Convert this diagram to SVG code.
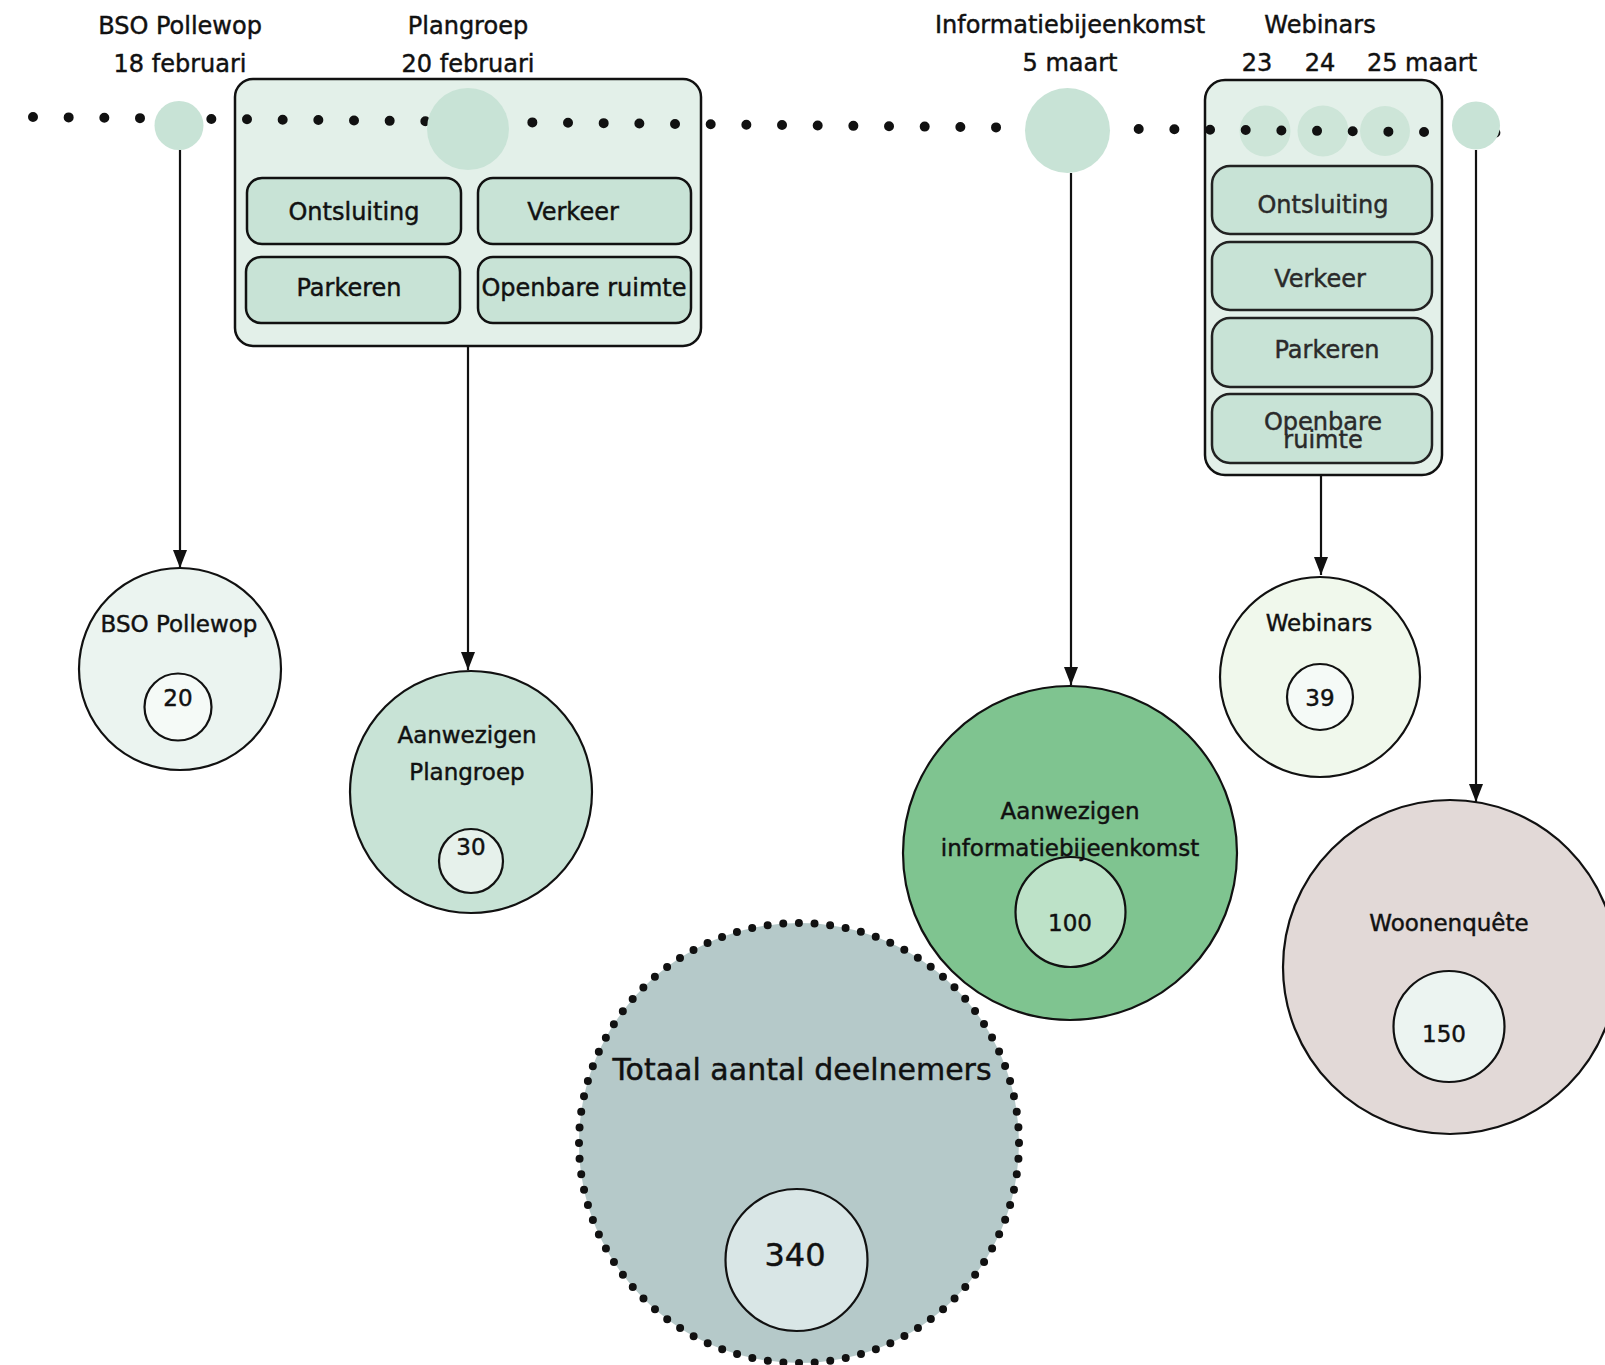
<svg xmlns="http://www.w3.org/2000/svg" width="1605" height="1365" viewBox="0 0 1605 1365">
<defs>
<style>
text{font-family:"DejaVu Sans","Liberation Sans",sans-serif;fill:#111;stroke:#111;stroke-width:0.45;text-anchor:middle}
.lbl{font-size:24px}
.nl{font-size:23px}
.num{font-size:23px}
.box{fill:#e3f0e9;stroke:#111;stroke-width:2.5}
.sub{fill:#c8e3d6;stroke:#111;stroke-width:2.5}
.wsub{fill:#c8e3d6;stroke:#222;stroke-width:2.5}
.wt{fill:#2a2a2a;stroke:#2a2a2a}
.ev{fill:#c8e3d6;stroke:none}
.node{stroke:#111;stroke-width:2.2}
.conn{stroke:#111;stroke-width:2.2;fill:none}
</style>
<marker id="arrow" markerWidth="18" markerHeight="14" viewBox="0 0 18 14" refX="18" refY="7" orient="auto" markerUnits="userSpaceOnUse">
<path d="M0,0 L18,7 L0,14 z" fill="#111"/>
</marker>
</defs>
<rect width="1605" height="1365" fill="#fff"/>

<g id="top-labels">
<text class="lbl" x="180" y="34">BSO Pollewop</text>
<text class="lbl" x="180" y="72">18 februari</text>
<text class="lbl" x="468" y="34">Plangroep</text>
<text class="lbl" x="468" y="72">20 februari</text>
<text class="lbl" x="1070" y="33">Informatiebijeenkomst</text>
<text class="lbl" x="1070" y="71">5 maart</text>
<text class="lbl" x="1320" y="33">Webinars</text>
<text class="lbl" x="1257" y="71">23</text>
<text class="lbl" x="1320" y="71">24</text>
<text class="lbl" x="1422" y="71">25 maart</text>
</g>

<g id="plangroep-box">
<rect class="box" x="235" y="79" width="466" height="267" rx="18"/>
<rect class="sub" x="247" y="178" width="214" height="66" rx="15"/>
<text class="lbl" x="354" y="220">Ontsluiting</text>
<rect class="sub" x="478" y="178" width="213" height="66" rx="15"/>
<text class="lbl" x="573" y="220">Verkeer</text>
<rect class="sub" x="246" y="257" width="214" height="66" rx="15"/>
<text class="lbl" x="349" y="296">Parkeren</text>
<rect class="sub" x="478" y="257" width="213" height="66" rx="15"/>
<text class="lbl" x="584" y="296">Openbare ruimte</text>
</g>

<g id="webinars-box">
<rect class="box" x="1205" y="80" width="237" height="395" rx="20"/>
<circle cx="1265" cy="131" r="25.5" fill="#cde5d8"/>
<circle cx="1323" cy="131" r="25.5" fill="#cde5d8"/>
<circle cx="1385" cy="131" r="25" fill="#cde5d8"/>
<rect class="wsub" x="1212" y="166" width="220" height="68" rx="18"/>
<text class="lbl wt" x="1323" y="213">Ontsluiting</text>
<rect class="wsub" x="1212" y="242" width="220" height="68" rx="18"/>
<text class="lbl wt" x="1320" y="287">Verkeer</text>
<rect class="wsub" x="1212" y="318" width="220" height="69" rx="18"/>
<text class="lbl wt" x="1327" y="358">Parkeren</text>
<rect class="wsub" x="1212" y="394" width="220" height="69" rx="18"/>
<text class="lbl wt" x="1323" y="430">Openbare</text>
<text class="lbl wt" x="1323" y="448">ruimte</text>
</g>

<g id="connectors">
<path d="M33,117 L1497,132.8" stroke="#111" stroke-width="10" stroke-linecap="round" stroke-dasharray="0 35.67" fill="none"/>
<path class="conn" d="M180,150 V568" marker-end="url(#arrow)"/>
<path class="conn" d="M468,347 V670" marker-end="url(#arrow)"/>
<path class="conn" d="M1071,173 V685" marker-end="url(#arrow)"/>
<path class="conn" d="M1321,475 V575" marker-end="url(#arrow)"/>
<path class="conn" d="M1476,150 V802" marker-end="url(#arrow)"/>
</g>

<g id="event-bso"><circle class="ev" cx="179" cy="125.5" r="24.5"/></g>
<g id="event-plangroep"><circle class="ev" cx="468" cy="129" r="41"/></g>
<g id="event-info"><circle class="ev" cx="1067.5" cy="130.5" r="42.5"/></g>
<g id="event-woon"><circle class="ev" cx="1476" cy="125.5" r="24"/></g>

<g id="node-bso">
<circle class="node" cx="180" cy="669" r="101" fill="#ebf4f0"/>
<text class="nl" x="179" y="632">BSO Pollewop</text>
<circle class="node" cx="178" cy="707" r="33.5" fill="#f5faf7"/>
<text class="num" x="178" y="706">20</text>
</g>

<g id="node-plangroep">
<circle class="node" cx="471" cy="792" r="121" fill="#c8e3d6" stroke-width="3"/>
<text class="nl" x="467" y="743">Aanwezigen</text>
<text class="nl" x="467" y="780">Plangroep</text>
<circle class="node" cx="471" cy="861" r="32" fill="#e6f1eb"/>
<text class="num" x="471" y="855">30</text>
</g>

<g id="node-info">
<circle class="node" cx="1070" cy="853" r="167" fill="#7fc490"/>
<circle class="node" cx="1070.5" cy="912" r="55" fill="#bde2c8"/>
<text class="nl" x="1070" y="819">Aanwezigen</text>
<text class="nl" x="1070" y="856">informatiebijeenkomst</text>
<text class="num" x="1070" y="931">100</text>
</g>

<g id="node-webinars">
<circle class="node" cx="1320" cy="677" r="100" fill="#f0f8ec"/>
<text class="nl" x="1319" y="631">Webinars</text>
<circle class="node" cx="1320" cy="697" r="33" fill="#f5faf7"/>
<text class="num" x="1320" y="706">39</text>
</g>

<g id="node-woon">
<circle class="node" cx="1450" cy="967" r="167" fill="#e2d9d7"/>
<text class="nl" x="1449" y="931">Woonenquête</text>
<circle class="node" cx="1449" cy="1026.5" r="55.5" fill="#ecf4f1"/>
<text class="num" x="1444" y="1042">150</text>
</g>

<g id="node-totaal">
<circle cx="799" cy="1143" r="220" fill="#b5c9c9"/>
<circle cx="799" cy="1143" r="220" fill="none" stroke="#111" stroke-width="8" stroke-linecap="round" stroke-dasharray="0 15.7"/>
<text x="802" y="1080" style="font-size:30px">Totaal aantal deelnemers</text>
<circle class="node" cx="796.5" cy="1260" r="71" fill="#d9e6e6" stroke-width="2.5"/>
<text x="795" y="1266" style="font-size:32px">340</text>
</g>
</svg>
